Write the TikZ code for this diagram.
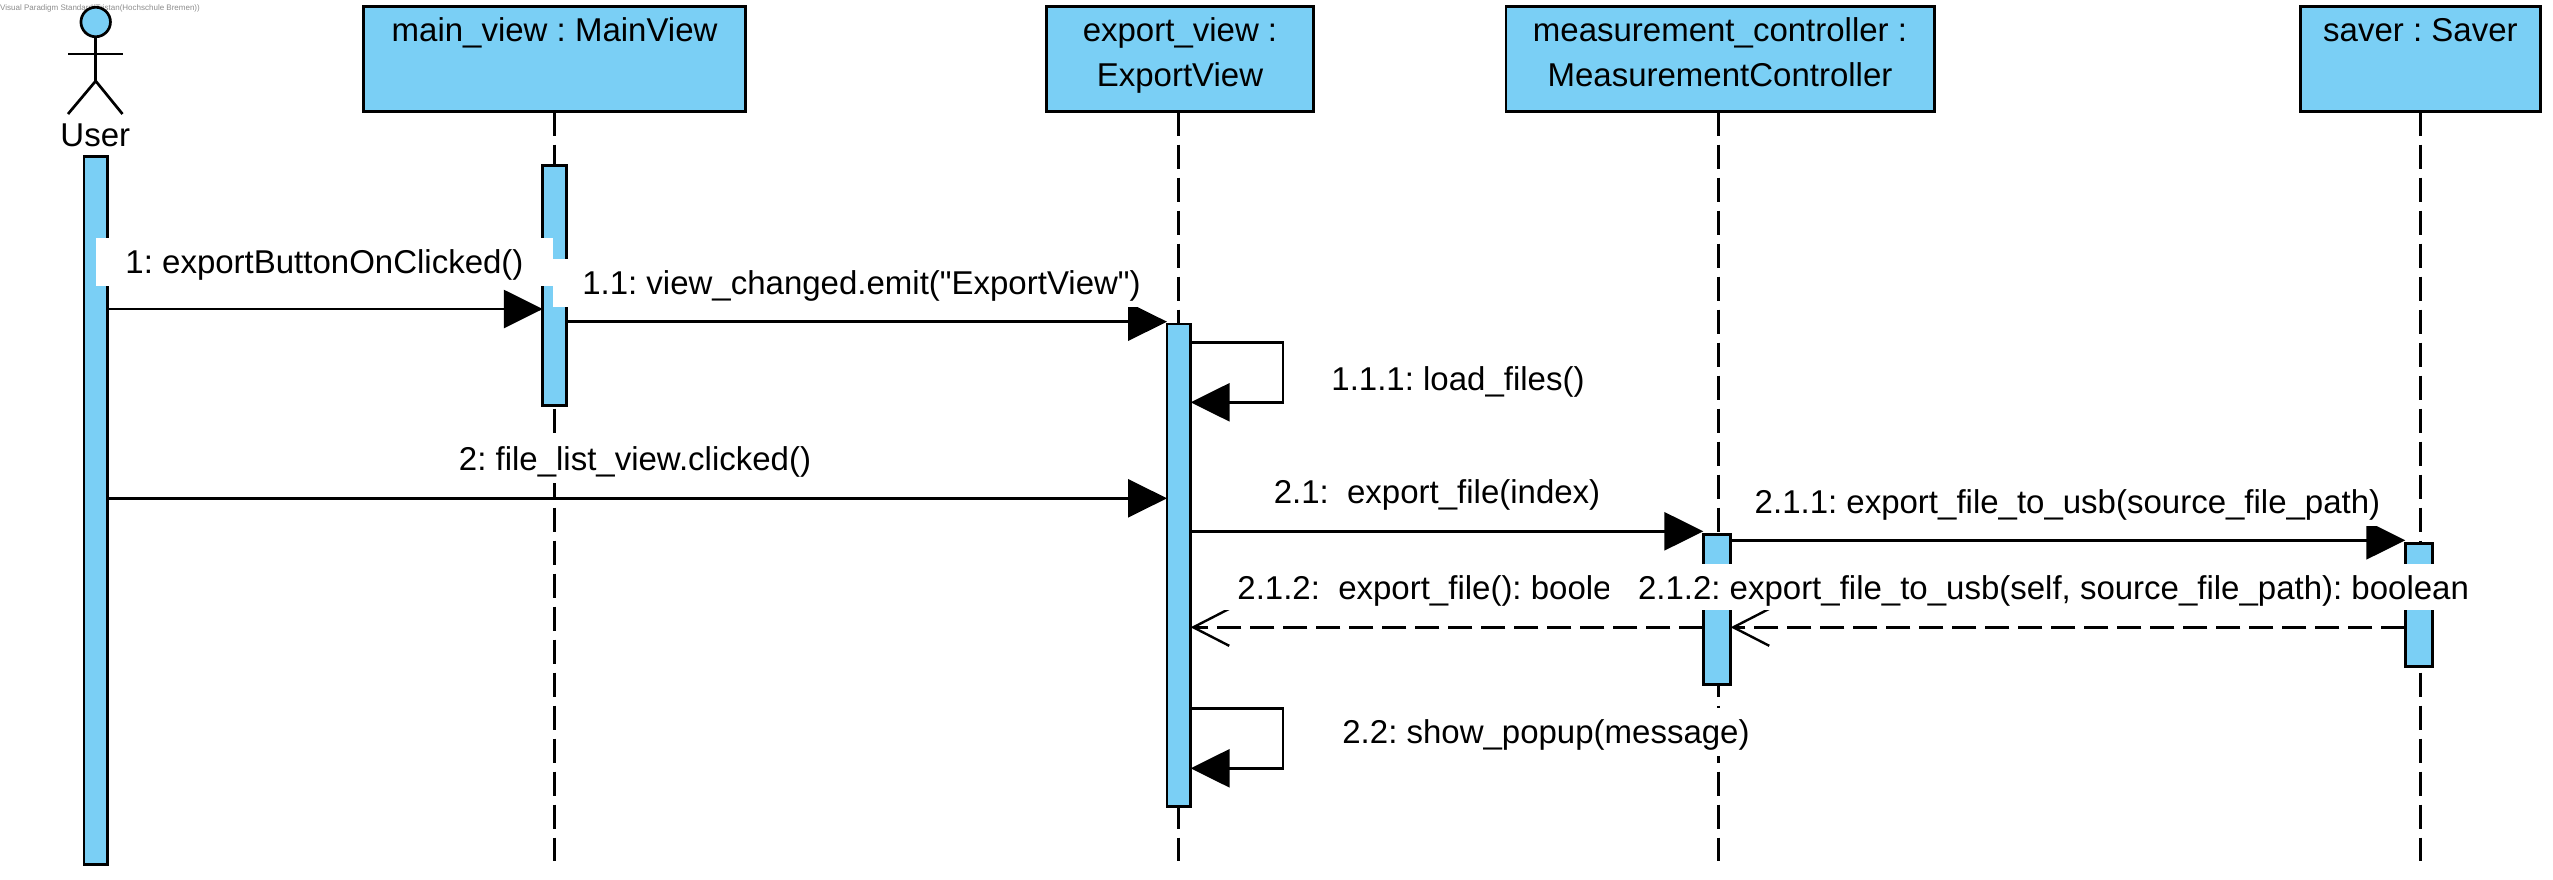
\documentclass[tikz,border=0pt]{standalone}
\usepackage{fontspec}
\setmainfont{Liberation Sans}
\newfontfamily\straightfont{Liberation Sans}
\frenchspacing
\usetikzlibrary{arrows.meta}
\usetikzlibrary{positioning}
\definecolor{vpblue}{RGB}{122,207,245}
\tikzset{
	headbox/.style={draw, fill=vpblue, line width=2.7pt, outer sep=0pt, minimum height=105.3pt},
	headtext/.style={inner sep=0pt, align=center, font=\fontsize{33}{45}\selectfont},
	bar/.style={draw, fill=vpblue, line width=2.7pt, outer sep=0pt, minimum width=23.6pt},
	lifeline/.style={line width=2.7pt, dash pattern=on 24pt off 9pt},
	msg/.style={line width=2.7pt, -{Triangle[length=39pt,width=38pt]}},
	reply/.style={line width=2.7pt, dash pattern=on 24pt off 9pt, -{Straight Barb[length=36pt,width=37pt,line width=2.4pt]}},
	msglabel/.style={fill=white, anchor=base, inner xsep=29pt, inner ysep=7.5pt, text height=28pt, text depth=5pt, font=\fontsize{33}{40}\selectfont},
}
\begin{document}
\begin{tikzpicture}[x=1pt,y=-1pt]
	\useasboundingbox (0,0) rectangle (2553,879);
	\node[anchor=base west, inner sep=0pt, text=black!45, font=\fontsize{8}{10}\selectfont] (watermark) at (0,10.3) {Visual Paradigm Standard(Tristan(Hochschule Bremen))};

	\node[headbox, minimum width=382.3pt] (mainbox) at (554.6,59) {};
	\node[headbox, minimum width=267.3pt] (exportbox) at (1180,59) {};
	\node[headbox, minimum width=428.3pt] (measurebox) at (1720,59) {};
	\node[headbox, minimum width=240pt] (saverbox) at (2420.4,59) {};
	\node[headtext, below=3.9pt of mainbox.north] (maintext) {main\_view : MainView\strut};
	\node[headtext, below=3.9pt of exportbox.north] (exporttext) {export\_view :\strut\\ExportView\strut};
	\node[headtext, below=3.9pt of measurebox.north] (measuretext) {measurement\_controller :\strut\\MeasurementController\strut};
	\node[headtext, below=3.9pt of saverbox.north] (savertext) {saver : Saver\strut};

	\coordinate (mainend) at (554.6,861);
	\coordinate (exportend) at (1178.6,861);
	\coordinate (measureend) at (1718.2,861);
	\coordinate (saverend) at (2420.3,861);
	\draw[lifeline] (mainend |- mainbox.south) -- (mainend);
	\draw[lifeline] (exportend |- exportbox.south) -- (exportend);
	\draw[lifeline] (measureend |- measurebox.south) -- (measureend);
	\draw[lifeline] (saverend |- saverbox.south) -- (saverend);

	\node[bar, minimum height=708pt] (userbar) at (95.8,510.3) {};
	\node[bar, minimum height=239.6pt] (mainbar) at (554.6,285.5) {};
	\node[bar, minimum height=482.6pt] (exportbar) at (1178.8,565.3) {};
	\node[bar, minimum width=27.3pt, minimum height=150.3pt] (measurebar) at (1717,609.5) {};
	\node[bar, minimum width=27.3pt, minimum height=123pt] (saverbar) at (2419,604.8) {};

	\node[draw, fill=vpblue, circle, line width=2.7pt, outer sep=0pt, minimum size=29.5pt] (userhead) at (95.7,22) {};
	\coordinate (userhip) at (95.7,81);
	\coordinate (userarml) at (68,54);
	\coordinate (userarmr) at (122.5,54);
	\coordinate (userfootl) at (68,114);
	\coordinate (userfootr) at (122.5,114);
	\draw[line width=2.7pt] (userhead.south) -- (userhip);
	\draw[line width=2.7pt] (userarml) -- (userarmr);
	\draw[line width=2.7pt] (userfootl) -- (userhip) -- (userfootr);
	\node[anchor=base, inner sep=0pt, font=\fontsize{33}{40}\selectfont] (usertext) at (95.3,146.7) {User};

	\coordinate (y1) at (0,309);
	\coordinate (y11) at (0,321.7);
	\coordinate (y2) at (0,498.3);
	\coordinate (y21) at (0,531.3);
	\coordinate (y211) at (0,540.3);
	\coordinate (y212) at (0,627.3);
	\coordinate (loopa) at (1283,342.3);
	\coordinate (loopb) at (1283,402.3);
	\coordinate (loopc) at (1283,708.3);
	\coordinate (loopd) at (1283,768.3);

	\draw[msg] (userbar.east |- y1) -- (mainbar.west |- y1);
	\draw[msg] (mainbar.east |- y11) -- (exportbar.west |- y11);
	\draw[msg] (exportbar.east |- loopa) -- (loopa) -- (loopb) -- (exportbar.east |- loopb);
	\draw[msg] (userbar.east |- y2) -- (exportbar.west |- y2);
	\draw[msg] (exportbar.east |- y21) -- (measurebar.west |- y21);
	\draw[msg] (measurebar.east |- y211) -- (saverbar.west |- y211);
	\draw[reply] (saverbar.west |- y212) -- (measurebar.east |- y212);
	\draw[reply] (measurebar.west |- y212) -- (exportbar.east |- y212);
	\draw[msg] (exportbar.east |- loopc) -- (loopc) -- (loopd) -- (exportbar.east |- loopd);

	\node[msglabel] (label1) at (324.5,273) {1: exportButtonOnClicked()};
	\node[msglabel, font=\straightfont\fontsize{33}{40}\selectfont] (label11) at (861.5,294) {1.1: view\_changed.emit("ExportView")};
	\node[msglabel] (label111) at (1458,390) {1.1.1: load\_files()};
	\node[msglabel] (label2) at (635,470) {2: file\_list\_view.clicked()};
	\node[msglabel] (label21) at (1437,503) {2.1:~~export\_file(index)};
	\node[msglabel] (label211) at (2067.5,513) {2.1.1: export\_file\_to\_usb(source\_file\_path)};
	\node[msglabel, text depth=3pt] (label212) at (1424.5,599) {2.1.2:~~export\_file(): boole};
	\node[msglabel, text depth=3pt] (label2121) at (2053.5,599) {2.1.2: export\_file\_to\_usb(self, source\_file\_path): boolean};
	\node[msglabel] (label22) at (1546,743) {2.2: show\_popup(message)};
\end{tikzpicture}
\end{document}
